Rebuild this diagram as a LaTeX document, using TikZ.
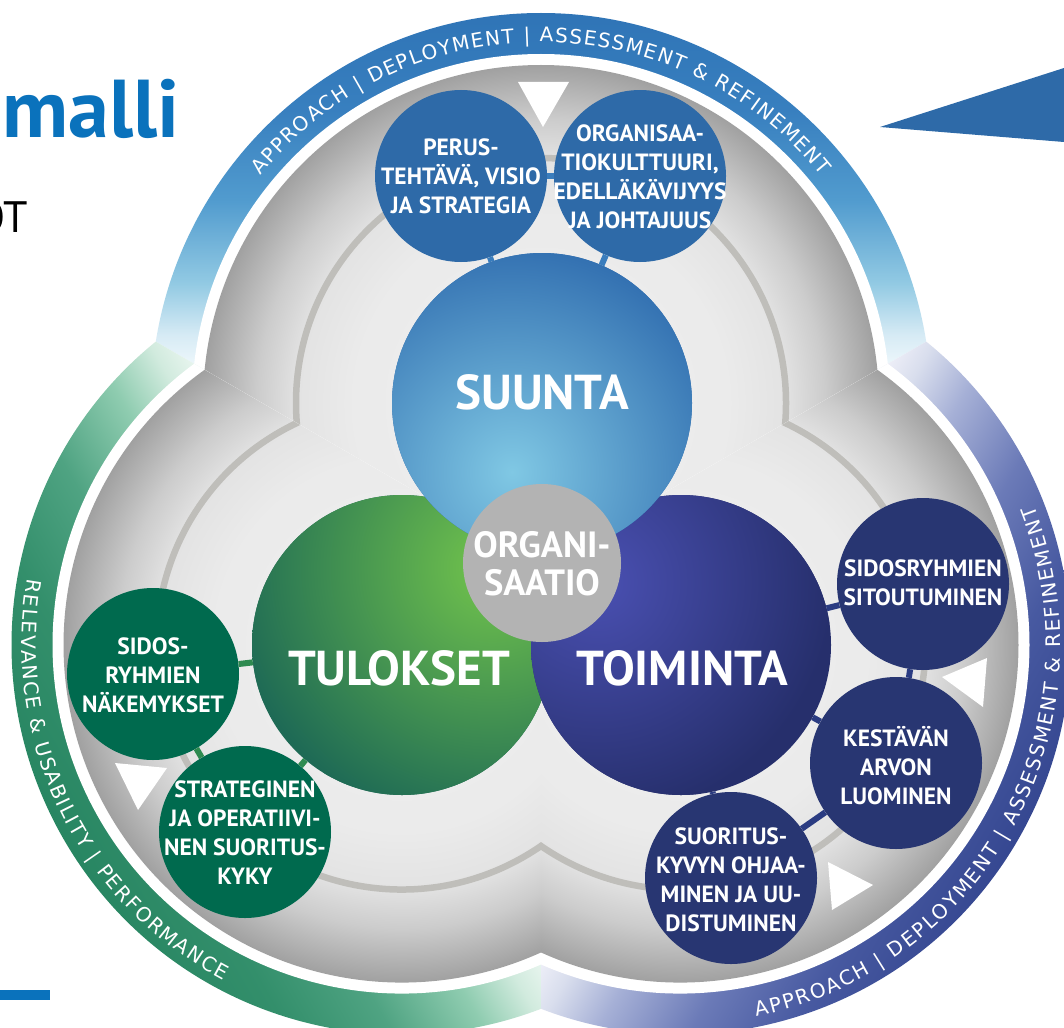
\documentclass[tikz,border=0pt]{standalone}
\usepackage{fontspec}
\setmainfont{PT Sans}
\newfontfamily\ringfontfam{DejaVu Sans}
\usetikzlibrary{decorations.text}

\definecolor{topblue}{HTML}{2E6AA8}
\definecolor{nubblue}{HTML}{3A7DBD}
\definecolor{darkgreen}{HTML}{006A4E}
\definecolor{nubgreen}{HTML}{2E8A50}
\definecolor{navy}{HTML}{283672}
\definecolor{nubnavy}{HTML}{2B3C82}
\definecolor{titleblue}{HTML}{0A72BC}
\definecolor{trackgray}{HTML}{BFBEBA}
\definecolor{orggray}{HTML}{B3B3B3}
\definecolor{suuntabase}{HTML}{2E6BAE}
\definecolor{suuntaglow}{HTML}{80C8E4}
\definecolor{tulbase}{HTML}{1E6A55}
\definecolor{tulglow}{HTML}{72C44C}
\definecolor{toibase}{HTML}{262F6C}
\definecolor{toiglow}{HTML}{4A50B2}

% the middle 25bp..75bp of a shading is fitted to the bounding box of the shaded path
\pgfdeclareverticalshading{ringT}{100bp}{rgb(0bp)=(0.95,0.98,0.99); rgb(25bp)=(0.95,0.98,0.99); rgb(30bp)=(0.84,0.92,0.96); rgb(37bp)=(0.57,0.79,0.89); rgb(48bp)=(0.32,0.61,0.81); rgb(60bp)=(0.22,0.50,0.75); rgb(75bp)=(0.18,0.45,0.71); rgb(100bp)=(0.18,0.45,0.71)}
\pgfdeclareverticalshading{ringL}{100bp}{rgb(0bp)=(0.93,0.97,0.95); rgb(25bp)=(0.93,0.97,0.95); rgb(30bp)=(0.82,0.92,0.87); rgb(37bp)=(0.56,0.80,0.69); rgb(48bp)=(0.31,0.64,0.51); rgb(60bp)=(0.20,0.56,0.42); rgb(75bp)=(0.15,0.52,0.38); rgb(100bp)=(0.15,0.52,0.38)}
\pgfdeclareverticalshading{ringR}{100bp}{rgb(0bp)=(0.95,0.95,0.98); rgb(25bp)=(0.95,0.95,0.98); rgb(30bp)=(0.85,0.87,0.93); rgb(37bp)=(0.65,0.69,0.84); rgb(48bp)=(0.42,0.48,0.72); rgb(60bp)=(0.28,0.35,0.63); rgb(75bp)=(0.20,0.27,0.56); rgb(100bp)=(0.20,0.27,0.56)}
\pgfdeclareradialshading{lobegray}{\pgfpoint{0bp}{0bp}}{rgb(0bp)=(0.94,0.94,0.94); rgb(14bp)=(0.92,0.92,0.92); rgb(18bp)=(0.89,0.89,0.89); rgb(21bp)=(0.80,0.80,0.80); rgb(25bp)=(0.63,0.63,0.63); rgb(50bp)=(0.63,0.63,0.63)}

\newcommand\ringfmt{\ringfontfam\fontsize{20}{20}\selectfont\color{white}}
\newcommand\sepbar{\char"007C\relax}

% one lobe of the trefoil, drawn in the frame of the top lobe and rotated about O
\newcommand\lobe[2]{%
  \begin{scope}[transform canvas={rotate around={#1:(O)}}]
    \begin{scope}
      \clip (O) -- (-325,64) -- (541,-436) -- (1407,64) -- cycle;
      \begin{scope}
        \clip (CT) circle (390);
        \shade[shading=#2] (60,0) rectangle (1020,372);
      \end{scope}
      \fill[white] (CT) circle (349);
      \shade[shading=lobegray] (CT) circle (338);
      \draw[track] (CT) circle (245);
    \end{scope}
  \end{scope}}

\tikzset{
  track/.style={draw=trackgray, line width=6.5pt},
  smallc/.style={circle, minimum size=172pt, inner sep=0pt},
  bigc/.style={circle, minimum size=300pt, inner sep=0pt},
  smalltxt/.style={text=white, font=\bfseries\fontsize{23.5}{29}\selectfont, align=center, inner sep=0pt},
  bigtxt/.style={text=white, font=\bfseries\fontsize{49}{49}\selectfont, inner sep=0pt},
  conn/.style={line width=6pt},
  tri/.style={fill=white},
  ringtext/.style={decorate, decoration={text along path, text align=fit to path, text={#1}}}
}

\begin{document}
\begin{tikzpicture}[x=1pt, y=-1pt]
\useasboundingbox (0,0) rectangle (1064,1027);
\fill[white] (0,0) rectangle (1064,1027);

\coordinate (O) at (541,564);
\coordinate (CT) at (541,403);
\coordinate (CL) at (401.57,644.5);
\coordinate (CR) at (680.43,644.5);

% trefoil lobes: coloured ring, white gap, gray disc, track line
\lobe{0}{ringT}
\lobe{120}{ringL}
\lobe{-120}{ringR}

% white flow triangles
\fill[tri] (518,82) -- (569,82) -- (543,127) -- cycle;
\fill[tri] (115,763) -- (167,768) -- (138,810) -- cycle;
\fill[tri] (942,677) -- (987,658) -- (983,707) -- cycle;
\fill[tri] (828,862) -- (873,885) -- (832,910) -- cycle;

% big circles
\node[bigc, fill=tulbase] (tulokset) at (402,645) {};
\begin{scope}
  \clip (402,645) circle (150);
  \shade[inner color=tulglow, outer color=tulbase] (492,568) circle (265);
\end{scope}
\node[bigc, fill=toibase] (toiminta) at (681,645) {};
\begin{scope}
  \clip (681,645) circle (150);
  \shade[inner color=toiglow, outer color=toibase] (598,582) circle (235);
\end{scope}
\node[bigc, fill=suuntabase] (suunta) at (542,403) {};
\begin{scope}
  \clip (542,403) circle (150);
  \shade[inner color=suuntaglow, outer color=suuntabase] (512,472) circle (240);
\end{scope}
\node[circle, minimum size=158pt, inner sep=0pt, fill=orggray] (organ) at (542,563) {};

% small circles
\node[smallc, fill=topblue] (perus) at (461,176) {};
\node[smallc, fill=topblue] (orgk) at (640,176) {};
\node[smallc, fill=darkgreen] (sidn) at (153,674) {};
\node[smallc, fill=darkgreen] (strat) at (245,832) {};
\node[smallc, fill=navy] (sitou) at (923,584) {};
\node[smallc, fill=navy] (kest) at (896,763) {};
\node[smallc, fill=navy] (suor) at (731,878) {};

% connectors
\draw[conn, nubblue] (perus) -- (orgk);
\draw[conn, nubblue] (perus) -- (suunta);
\draw[conn, nubblue] (orgk) -- (suunta);
\draw[conn, nubgreen] (sidn) -- (tulokset);
\draw[conn, nubgreen] (sidn) -- (strat);
\draw[conn, nubgreen] (strat) -- (tulokset);
\draw[conn, nubnavy] (sitou) -- (toiminta);
\draw[conn, nubnavy] (sitou) -- (kest);
\draw[conn, nubnavy] (kest) -- (toiminta);
\draw[conn, nubnavy] (kest) -- (suor);
\draw[conn, nubnavy] (suor) -- (toiminta);

% texts
\node[bigtxt] (suunta-t) at (542,392) {SUUNTA};
\node[bigtxt] (tulokset-t) at (399,668) {TULOKSET};
\node[bigtxt] (toiminta-t) at (682,668) {TOIMINTA};
\node[text=white, font=\bfseries\fontsize{36.5}{38}\selectfont, align=center, inner sep=0pt] (organ-t) at (542,564) {ORGANI-\\SAATIO};

\node[smalltxt] (perus-t) at (461,176) {PERUS-\\TEHTÄVÄ, VISIO\\JA STRATEGIA};
\node[smalltxt] (orgk-t) at (640,177) {ORGANISAA-\\TIOKULTTUURI,\\EDELLÄKÄVIJYYS\\JA JOHTAJUUS};
\node[smalltxt] (sidn-t) at (153,675) {SIDOS-\\RYHMIEN\\NÄKEMYKSET};
\node[smalltxt] (strat-t) at (245,833) {STRATEGINEN\\JA OPERATIIVI-\\NEN SUORITUS-\\KYKY};
\node[smalltxt] (sitou-t) at (923,583) {SIDOSRYHMIEN\\SITOUTUMINEN};
\node[smalltxt] (kest-t) at (896,766) {KESTÄVÄN\\ARVON\\LUOMINEN};
\node[smalltxt] (suor-t) at (731,880) {SUORITUS-\\KYVYN OHJAA-\\MINEN JA UU-\\DISTUMINEN};

% ring texts
\path[ringtext={|\ringfmt|APPROACH {\sepbar} DEPLOYMENT {\sepbar} ASSESSMENT {\&} REFINEMENT}]
  (CT) ++(-141:361) arc[start angle=-141, end angle=-39, radius=361];
\path[ringtext={|\ringfmt|RELEVANCE {\&} USABILITY {\sepbar} PERFORMANCE}]
  (CL) ++(-170:380) arc[start angle=-170, end angle=-242, radius=380];
\path[ringtext={|\ringfmt|APPROACH {\sepbar} DEPLOYMENT {\sepbar} ASSESSMENT {\&} REFINEMENT}]
  (CR) ++(78.5:380) arc[start angle=78.5, end angle=-21.5, radius=380];

% page elements around the figure
\node[anchor=base east, inner sep=0pt, text=titleblue, font=\bfseries\fontsize{82}{82}\selectfont] (title) at (180,138) {malli};
\node[anchor=base east, inner sep=0pt, font=\fontsize{44}{44}\selectfont] (ot) at (28,232) {OT};
\fill[titleblue] (0,990) rectangle (50,1000);
\fill[topblue] (880,127) -- (1064,68) -- (1064,142) -- cycle;
\end{tikzpicture}
\end{document}
